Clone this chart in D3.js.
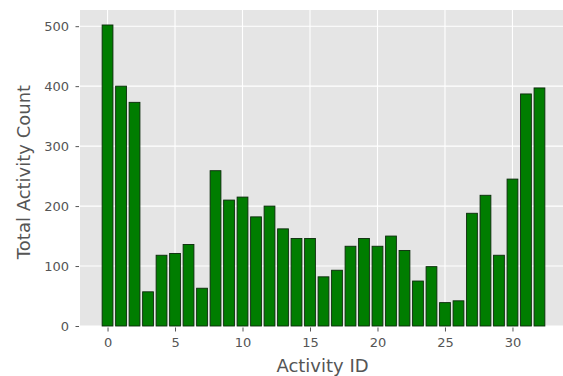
<!DOCTYPE html>
<html><head><meta charset="utf-8">
<script src="https://cdn.jsdelivr.net/npm/d3@7"></script>
<style>
body{margin:0;background:#fff;}
svg text{font-family:"DejaVu Sans",sans-serif;}
</style></head>
<body><svg id="c" width="563" height="376"></svg>
<script>
const activityIds = d3.range(0, 33);
const activityCounts = [502, 400, 373, 57, 118, 121, 136, 63, 259, 210, 215, 182, 200, 162,
  146, 146, 82, 93, 133, 146, 133, 150, 126, 75, 99, 39, 42, 188, 218, 118, 245, 387, 397];
const xTicks = [0, 5, 10, 15, 20, 25, 30];
const yTicks = [0, 100, 200, 300, 400, 500];
const xLabel = "Activity ID";
const yLabel = "Total Activity Count";

(function(){
const svg = d3.select("#c");
const pl = 80, pr = 567, pt = 10, pb = 326;
const x = d3.scaleLinear().domain([-2.04, 34.04]).range([pl, pr]);
const y = d3.scaleLinear().domain([0, 527]).range([pb, pt]);

svg.append("rect").attr("x", pl).attr("y", pt).attr("width", pr-pl).attr("height", pb-pt).attr("fill", "#e5e5e5");

// grid
svg.append("g").selectAll("line").data(xTicks).join("line")
  .attr("x1", d=>x(d)).attr("x2", d=>x(d)).attr("y1", pt).attr("y2", pb)
  .attr("stroke", "#fff").attr("stroke-width", 1.1);
svg.append("g").selectAll("line").data(yTicks).join("line")
  .attr("y1", d=>y(d)).attr("y2", d=>y(d)).attr("x1", pl).attr("x2", pr)
  .attr("stroke", "#fff").attr("stroke-width", 1.1);

// bars
svg.append("g").selectAll("rect").data(activityIds).join("rect")
  .attr("x", d=>x(d-0.4)).attr("width", x(0.8)-x(0))
  .attr("y", (d,i)=>y(activityCounts[i])).attr("height", (d,i)=>y(0)-y(activityCounts[i]))
  .attr("fill", "#007d00").attr("stroke", "#0b2a0b").attr("stroke-width", 0.9);

// axes
const xAxis = d3.axisBottom(x).tickValues(xTicks).tickSize(4).tickPadding(6.5);
const gx = svg.append("g").attr("transform", `translate(0,${pb+1.5})`).call(xAxis);
gx.select(".domain").remove();
gx.selectAll("line").attr("stroke", "#555").attr("stroke-width", 1);
gx.selectAll("text").attr("fill", "#555").attr("font-size", 13).attr("font-family", "DejaVu Sans");

const yAxis = d3.axisLeft(y).tickValues(yTicks).tickSize(3.5).tickPadding(6.5);
const gy = svg.append("g").attr("transform", `translate(${pl-1},0)`).call(yAxis);
gy.select(".domain").remove();
gy.selectAll("line").attr("stroke", "#555").attr("stroke-width", 1);
gy.selectAll("text").attr("fill", "#555").attr("font-size", 13).attr("font-family", "DejaVu Sans");

svg.append("text").attr("x", 322.5).attr("y", 372).attr("text-anchor", "middle")
  .attr("fill", "#555").attr("font-size", 18).text(xLabel);
svg.append("text").attr("transform", `translate(30,172) rotate(-90)`).attr("text-anchor", "middle")
  .attr("fill", "#555").attr("font-size", 18).text(yLabel);
})();
</script></body></html>
